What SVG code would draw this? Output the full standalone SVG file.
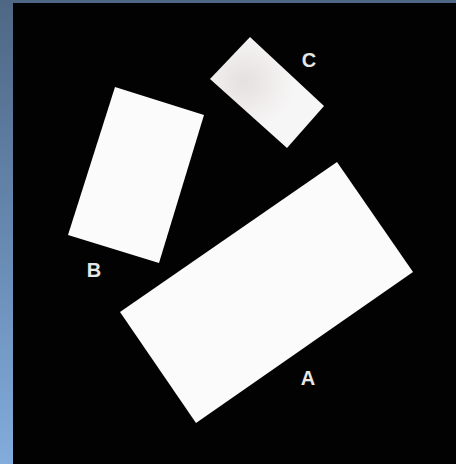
<svg xmlns="http://www.w3.org/2000/svg" width="456" height="464" viewBox="0 0 456 464">
  <defs>
    <linearGradient id="edge" x1="0" y1="0" x2="0" y2="1">
      <stop offset="0" stop-color="#4e6784"/>
      <stop offset="0.5" stop-color="#6688b0"/>
      <stop offset="1" stop-color="#82acdc"/>
    </linearGradient>
    <filter id="soft" x="-5%" y="-5%" width="110%" height="110%">
      <feGaussianBlur stdDeviation="0.7"/>
    </filter>
    <radialGradient id="smudge" cx="0.3" cy="0.4" r="0.45">
      <stop offset="0" stop-color="#e6e0e0"/>
      <stop offset="1" stop-color="#f7f6f6"/>
    </radialGradient>
  </defs>
  <style>
    .card { fill: #fbfbfb; filter: url(#soft); }
    .label { font-family: "Liberation Sans", Arial, sans-serif; font-weight: bold; font-size: 20px; fill: #e6e6e6; text-anchor: middle; }
  </style>
  <rect x="0" y="0" width="456" height="464" fill="url(#edge)"/>
  <rect x="0" y="0" width="456" height="3" fill="#4e6784"/>
  <rect x="13" y="3" width="443" height="461" fill="#020202"/>

  <g id="node-C">
    <polygon class="card" points="250,37 324,106 287,148 210,79" style="fill:url(#smudge)"/>
    <text class="label" x="309" y="67">C</text>
  </g>
  <g id="node-B">
    <polygon class="card" points="115,87 204,115 159,263 68,235"/>
    <text class="label" x="94" y="277">B</text>
  </g>
  <g id="node-A">
    <polygon class="card" points="337,162 413,272 196,423 120,312"/>
    <text class="label" x="308" y="385">A</text>
  </g>
</svg>
